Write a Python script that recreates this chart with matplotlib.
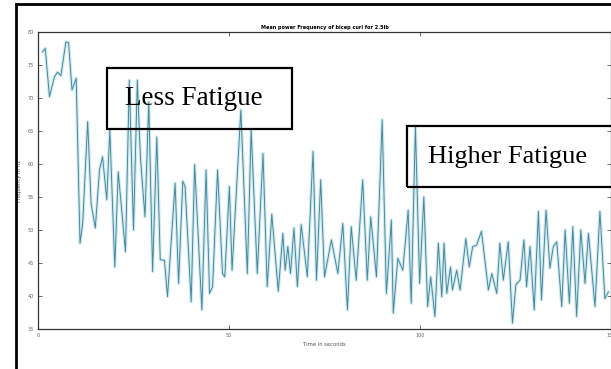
import matplotlib.pyplot as plt
from matplotlib.patches import Rectangle
from matplotlib.lines import Line2D

# mean power frequency of the bicep curl (2.5 lb), turning points of the trace
time_s = [
    1.2, 1.9, 3.0, 4.3, 5.1, 6.0, 7.3, 8.0, 8.9, 10.0,
    11.0, 11.7, 13.0, 13.9, 15.0, 16.1, 16.9, 18.0, 18.8, 20.1,
    21.0, 22.9, 23.9, 25.0, 26.0, 26.8, 28.0, 29.0, 30.0, 31.1,
    32.0, 33.1, 33.9, 35.9, 36.8, 37.9, 38.5, 40.1, 41.0, 42.9,
    44.0, 44.9, 45.7, 47.0, 48.3, 48.9, 50.1, 50.8, 53.1, 54.8,
    55.8, 57.4, 58.9, 60.0, 61.2, 62.9, 64.1, 64.7, 65.4, 66.1,
    67.0, 67.9, 68.9, 70.5, 72.0, 72.9, 74.0, 75.0, 76.8, 78.5,
    79.8, 81.0, 82.0, 83.3, 85.0, 86.2, 87.1, 88.6, 90.1, 91.2,
    92.5, 93.0, 94.2, 95.5, 96.9, 97.7, 98.8, 99.9, 101.0, 102.0,
    102.8, 103.9, 104.8, 105.7, 106.3, 107.0, 108.0, 108.5, 109.6, 110.5,
    112.0, 112.9, 113.8, 114.8, 116.1, 117.9, 118.8, 120.1, 120.9, 121.8,
    123.1, 124.2, 125.1, 126.2, 127.2, 127.9, 128.8, 129.9, 131.0, 131.8,
    133.0, 134.0, 134.9, 135.8, 137.1, 138.0, 139.1, 140.0, 141.0, 142.1,
    143.2, 144.1, 145.8, 147.1, 148.4, 149.3,
]
freq_hz = [
    77.0, 77.5, 70.2, 73.2, 73.9, 73.4, 78.5, 78.4, 71.2, 73.0,
    48.0, 51.0, 66.4, 54.0, 50.3, 59.1, 61.1, 54.6, 65.2, 44.4,
    58.8, 46.7, 72.7, 50.0, 72.7, 61.1, 52.0, 69.4, 43.7, 64.1,
    45.5, 45.4, 39.9, 57.1, 41.9, 57.4, 56.6, 39.1, 59.9, 37.9,
    59.1, 40.4, 41.4, 59.1, 43.4, 42.9, 56.6, 43.9, 68.2, 43.4,
    65.2, 43.4, 61.6, 41.4, 52.4, 40.7, 49.5, 43.9, 47.5, 43.4,
    50.3, 41.4, 50.8, 42.9, 61.9, 42.4, 57.6, 42.9, 48.5, 43.4,
    51.0, 37.9, 50.5, 42.4, 57.6, 42.4, 52.0, 42.9, 66.7, 40.4,
    51.5, 37.4, 45.7, 43.9, 53.0, 38.9, 65.7, 41.9, 55.0, 38.4,
    42.9, 36.9, 48.0, 39.9, 48.0, 40.4, 44.4, 40.9, 43.9, 40.9,
    48.7, 44.4, 47.5, 47.7, 49.8, 40.9, 43.4, 40.4, 48.0, 42.4,
    48.2, 35.9, 41.7, 42.4, 48.5, 41.4, 47.5, 37.9, 52.8, 39.4,
    53.0, 44.2, 47.5, 48.2, 38.4, 50.0, 38.9, 50.5, 36.9, 50.0,
    41.9, 49.5, 38.4, 52.8, 39.6, 40.6,
]

x_ticks = [0, 50, 100, 150]
y_ticks = [35, 40, 45, 50, 55, 60, 65, 70, 75, 80]

fig = plt.figure(figsize=(6.11, 3.69), dpi=100)
ax = fig.add_axes([0.0622, 0.1084, 0.9378, 0.8049])

# soft halo under the trace, then the trace itself
ax.plot(time_s, freq_hz, color="#d3e9f0", lw=2.4, solid_joinstyle="round")
ax.plot(time_s, freq_hz, color="#468a9d", lw=0.7)

ax.set_xlim(0, 150)
ax.set_ylim(35, 80)
ax.set_xticks(x_ticks)
ax.set_yticks(y_ticks)
ax.tick_params(direction="in", length=3, width=0.6, labelsize=3.5,
               labelcolor="#666666", color="#555555", pad=3,
               top=True, right=True)
for sp in ax.spines.values():
    sp.set_color("#333333")
    sp.set_linewidth(0.9)

ax.set_title("Mean power Frequency of bicep curl for 2.5lb", fontsize=3.6,
             fontweight="bold", pad=2.5)
ax.set_xlabel("Time in seconds", fontsize=3.8, color="#555555", labelpad=3)
ax.set_ylabel("Frequency in Hz", fontsize=3.8, color="#555555", labelpad=4)

# annotation boxes (outline only, the trace shows through)
for x0, y0, w, h in [(0.1751, 0.6504, 0.3028, 0.1653),
                     (0.6661, 0.4924, 0.36, 0.1648)]:
    fig.add_artist(Rectangle((x0, y0), w, h, transform=fig.transFigure,
                             facecolor="none", edgecolor="black", lw=1.6))
fig.text(0.2046, 0.7154, "Less Fatigue", family="Liberation Serif",
         fontsize=19.5, va="baseline")
fig.text(0.701, 0.557, "Higher Fatigue", family="Liberation Serif",
         fontsize=19, va="baseline")

# outer frame along the left and top edges
fig.add_artist(Line2D([0.026, 0.026], [0, 0.99], transform=fig.transFigure,
                      color="black", lw=2))
fig.add_artist(Line2D([0.026, 1.0], [0.988, 0.988], transform=fig.transFigure,
                      color="black", lw=2))

fig.savefig("out.png", dpi=100)
